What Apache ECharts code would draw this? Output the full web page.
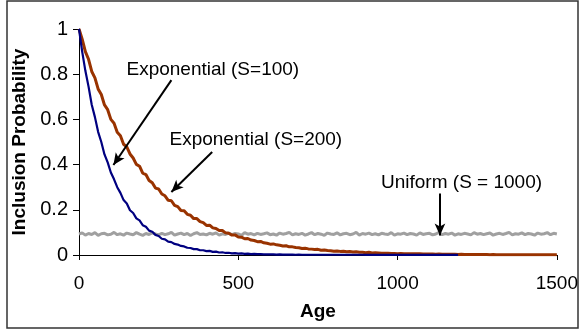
<!DOCTYPE html>
<html>
<head>
<meta charset="utf-8">
<script src="https://cdn.jsdelivr.net/npm/echarts@6/dist/echarts.min.js"></script>
<style>
html,body{margin:0;padding:0;background:#fff;}
#c{width:581px;height:330px;}
</style>
</head>
<body>
<div id="c"></div>
<script>
// Sample grid: ages 0..1500, every 10
const ageStep = 10;
const ageMax = 1500;
const ages = [];
for (let a = 0; a <= ageMax; a += ageStep) ages.push(a);

const xTicks = [0, 500, 1000, 1500];
const yTicks = [0, 0.2, 0.4, 0.6, 0.8, 1];

// Exponential (S=100) — ages 0..1190
const expS100 = [
  1.0,.90,.815,.745,.665,.61,.545,.50,.445,.41,
  .365,.335,.30,.275,.243,.228,.198,.186,.162,.153,
  .132,.125,.108,.103,.089,.084,.072,.069,.059,.057,
  .049,.046,.040,.038,.032,.031,.026,.026,.021,.021,
  .017,.018,.014,.015,.011,.012,.009,.010,.007,.008,
  .006,.007,.005,.006,.004,.005,.004,.004,.003,.003,
  .003,.003,.002,.003,.002,.002,.002,.002,.001,.002,
  .001,.001,.001,.001,.001,.001,.001,.001,.001,.001,
  .001,.001,.001,.001,.001,.001,.001,.001,.001,.001,
  .0005,.0005,.0005,.0005,.0005,.0005,.0005,.0005,.0005,.0005,
  .0005,.0005,.0005,.0005,.0005,.0005,.0005,.0005,.0005,.0005,
  .0005,.0005,.0005,.0005,.0005,.0005,.0005,.0005,.0005,.0005
];

// Exponential (S=200) — ages 0..1500
const expS200 = [
  1.0,.955,.9,.866,.812,.784,.735,.71,.664,.643,
  .6,.583,.543,.528,.49,.478,.447,.429,.401,.393,
  .362,.356,.33,.32,.296,.292,.27,.262,.242,.24,
  .22,.214,.197,.196,.18,.176,.161,.161,.148,.143,
  .131,.132,.12,.117,.108,.108,.098,.096,.088,.089,
  .08,.079,.072,.073,.066,.064,.059,.06,.054,.052,
  .048,.049,.045,.043,.04,.041,.036,.036,.033,.032,
  .029,.03,.027,.026,.024,.025,.021,.022,.02,.019,
  .017,.018,.016,.017,.014,.015,.013,.014,.012,.012,
  .01,.012,.009,.01,.009,.008,.008,.008,.007,.007,
  .006,.007,.006,.006,.005,.005,.005,.005,.004,.004,
  .004,.004,.003,.004,.003,.003,.003,.003,.003,.002,
  .003,.002,.002,.002,.002,.002,.002,.002,.002,.001,
  .002,.001,.001,.001,.001,.001,.001,.001,.001,.001,
  .001,.001,.001,.001,.001,.001,.001,.001,.001,.001,
  .001
];

// Uniform (S = 1000) — ages 0..1500
const uniformS1000 = [
  .093,.098,.088,.095,.091,.099,.087,.094,.096,.089,
  .092,.1,.09,.094,.088,.097,.093,.09,.099,.092,
  .087,.095,.091,.098,.093,.089,.096,.09,.094,.1,
  .088,.093,.097,.09,.095,.086,.094,.099,.091,.093,
  .089,.096,.092,.098,.088,.094,.091,.097,.09,.095,
  .093,.087,.099,.092,.095,.089,.096,.091,.094,.098,
  .09,.093,.088,.097,.092,.095,.1,.089,.094,.091,
  .096,.088,.093,.099,.09,.095,.092,.087,.097,.093,
  .091,.098,.089,.094,.096,.09,.093,.1,.088,.095,
  .092,.097,.09,.094,.089,.096,.093,.091,.099,.088,
  .094,.092,.097,.09,.095,.093,.088,.098,.091,.094,
  .096,.089,.093,.1,.09,.095,.092,.097,.088,.094,
  .091,.096,.093,.089,.099,.092,.095,.09,.094,.097,
  .088,.093,.096,.091,.095,.1,.089,.094,.092,.098,
  .09,.095,.093,.088,.097,.092,.094,.099,.09,.096,
  .093
];

// Annotations (data coordinates)
const annotTexts = ['Exponential (S=100)', 'Exponential (S=200)', 'Uniform (S = 1000)'];
const annotTextPos = [[149, 0.82], [284, 0.51], [948, 0.32]];
const arrowFrom = [[290, 0.774], [418, 0.456], [1133, 0.272]];
const arrowTo = [[108, 0.398], [290, 0.279], [1133, 0.086]];

const pairs = (vals) => vals.map((v, i) => [ages[i], v]);

const chart = echarts.init(document.getElementById('c'), null, {renderer: 'canvas'});
const FONT = '"Liberation Sans", Arial, Helvetica, sans-serif';

const option = {
  animation: false,
  backgroundColor: '#fff',
  grid: {left: 79, right: 22, top: 29, bottom: 75, containLabel: false},
  xAxis: {
    type: 'value', min: xTicks[0], max: xTicks[xTicks.length - 1], interval: 500,
    name: 'Age', nameLocation: 'middle', nameGap: 47,
    nameTextStyle: {fontFamily: FONT, fontSize: 19, fontWeight: 'bold', color: '#000'},
    axisLine: {lineStyle: {color: '#000', width: 1}},
    axisTick: {inside: false, length: 5, lineStyle: {color: '#000'}},
    axisLabel: {fontFamily: FONT, fontSize: 19, color: '#000', margin: 19, formatter: (v) => String(v)},
    splitLine: {show: false}
  },
  yAxis: {
    type: 'value', min: yTicks[0], max: yTicks[yTicks.length - 1], interval: 0.2,
    name: 'Inclusion Probability', nameLocation: 'middle', nameGap: 45,
    nameTextStyle: {fontFamily: FONT, fontSize: 19, fontWeight: 'bold', color: '#000'},
    axisLine: {show: true, lineStyle: {color: '#000', width: 1}},
    axisTick: {show: true, inside: false, length: 6, lineStyle: {color: '#000'}},
    axisLabel: {fontFamily: FONT, fontSize: 20, color: '#000', margin: 11, formatter: (v) => String(+v.toFixed(1))},
    splitLine: {show: false}
  },
  series: [
    {
      name: 'Uniform (S = 1000)', type: 'line', data: pairs(uniformS1000),
      showSymbol: false, symbol: 'none',
      lineStyle: {color: '#a0a0a0', width: 3}, z: 2
    },
    {
      name: 'Exponential (S=200)', type: 'line', data: pairs(expS200),
      showSymbol: false, symbol: 'none',
      lineStyle: {color: '#993300', width: 3}, z: 3
    },
    {
      name: 'Exponential (S=100)', type: 'line', data: pairs(expS100),
      showSymbol: false, symbol: 'none',
      lineStyle: {color: '#000080', width: 2.2}, z: 4,
      markLine: {
        silent: true, animation: false,
        symbol: ['none', 'arrow'], symbolSize: [8, 12],
        label: {show: false},
        lineStyle: {color: '#000', width: 2, type: 'solid'},
        data: arrowFrom.map((f, i) => [{coord: f}, {coord: arrowTo[i]}])
      }
    }
  ]
};
chart.setOption(option);

const graphics = annotTexts.map((t, i) => {
  const p = chart.convertToPixel({gridIndex: 0}, annotTextPos[i]);
  return {
    type: 'text', x: p[0], y: p[1], z: 10,
    style: {text: t, fontFamily: FONT, fontSize: 19, fill: '#000', align: 'left', verticalAlign: 'middle'}
  };
});
graphics.push({
  type: 'rect', shape: {x: 7, y: 1, width: 571, height: 327}, z: 0,
  style: {fill: 'none', stroke: '#333', lineWidth: 1.5}
});
chart.setOption({graphic: graphics});
</script>
</body>
</html>
